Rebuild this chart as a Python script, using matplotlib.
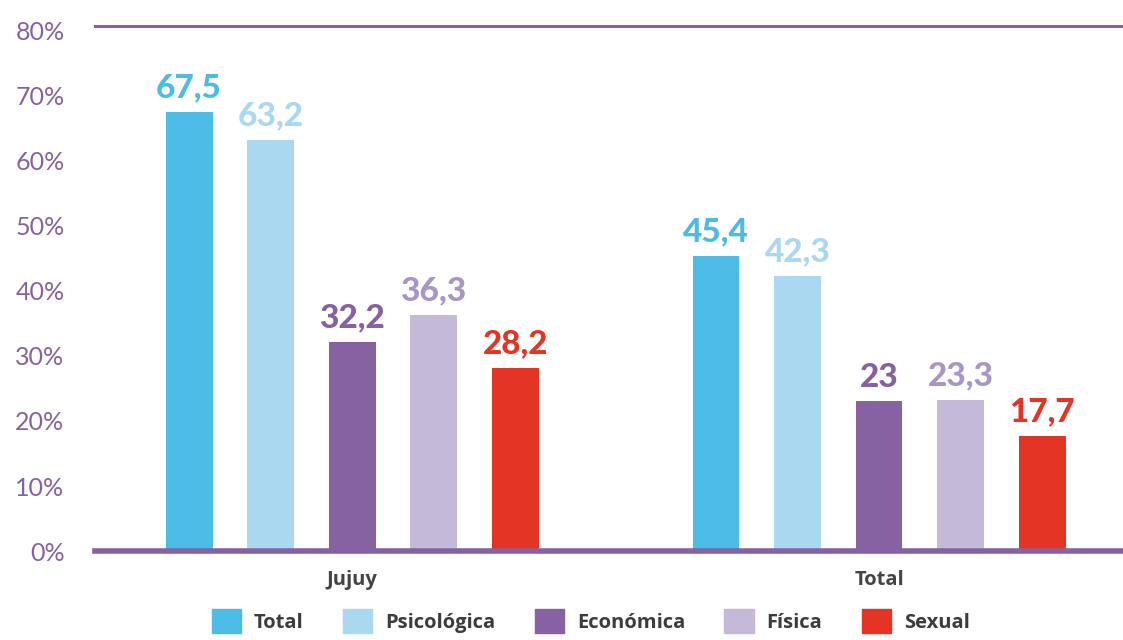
import numpy as np
import matplotlib
matplotlib.use("Agg")
import matplotlib.pyplot as plt
from matplotlib.patches import Patch

groups = ["Jujuy", "Total"]
series = ["Total", "Psicológica", "Económica", "Física", "Sexual"]
values = [
    [67.5, 45.4],
    [63.2, 42.3],
    [32.2, 23.0],
    [36.3, 23.3],
    [28.2, 17.7],
]
value_labels = [
    ["67,5", "45,4"],
    ["63,2", "42,3"],
    ["32,2", "23"],
    ["36,3", "23,3"],
    ["28,2", "17,7"],
]
bar_colors = ["#4CBBE6", "#AAD8F1", "#8662A2", "#C4B9D9", "#E43424"]
text_colors = ["#4CBBE6", "#AAD8F1", "#8662A2", "#A896C8", "#E43424"]
yticks = [0, 10, 20, 30, 40, 50, 60, 70, 80]

purple = "#8662A2"

fig = plt.figure(figsize=(11.23, 6.4), dpi=100)
ax = fig.add_axes([0.0846, 0.139, 0.9154, 0.82])

x = np.arange(len(groups))
width = 0.089
step = 0.1547
for i, s in enumerate(series):
    pos = x + (i - 2) * step
    ax.bar(pos, values[i], width, color=bar_colors[i], zorder=2)
    for p, v, lab in zip(pos, values[i], value_labels[i]):
        ax.annotate(lab, (p, v), xytext=(0, 7), textcoords="offset points",
                    ha="center", va="bottom", fontsize=24, fontweight="black",
                    color=text_colors[i], family="Lato")

ytop = 80.7
ax.set_xlim(-0.488, 1.463)
ax.set_ylim(0, ytop)
ax.axhline(ytop, color=purple, lw=2.2, zorder=1, clip_on=False)
ax.axhline(0, color=purple, lw=4, zorder=3, clip_on=False)

for sp in ax.spines.values():
    sp.set_visible(False)

ax.set_yticks(yticks)
ax.set_yticklabels([f"{t}%" for t in yticks], color=purple, fontsize=18, family="Lato")
ax.tick_params(axis="y", length=0, pad=22)
ax.set_xticks(x)
ax.set_xticklabels(groups, fontsize=14.5, fontweight="bold", color="#444444", family="Open Sans")
ax.tick_params(axis="x", length=0, pad=14)

handles = [Patch(color=c) for c in bar_colors]
fig.legend(handles, series, loc="lower center", bbox_to_anchor=(0.526, -0.018), ncol=5,
           frameon=False, handlelength=1.45, handleheight=1.45,
           columnspacing=1.95, handletextpad=0.65,
           prop={"family": "Open Sans", "weight": "bold", "size": 14.5})
for t in fig.legends[0].get_texts():
    t.set_color("#3C3C3C")

fig.savefig("out.png", dpi=100)
